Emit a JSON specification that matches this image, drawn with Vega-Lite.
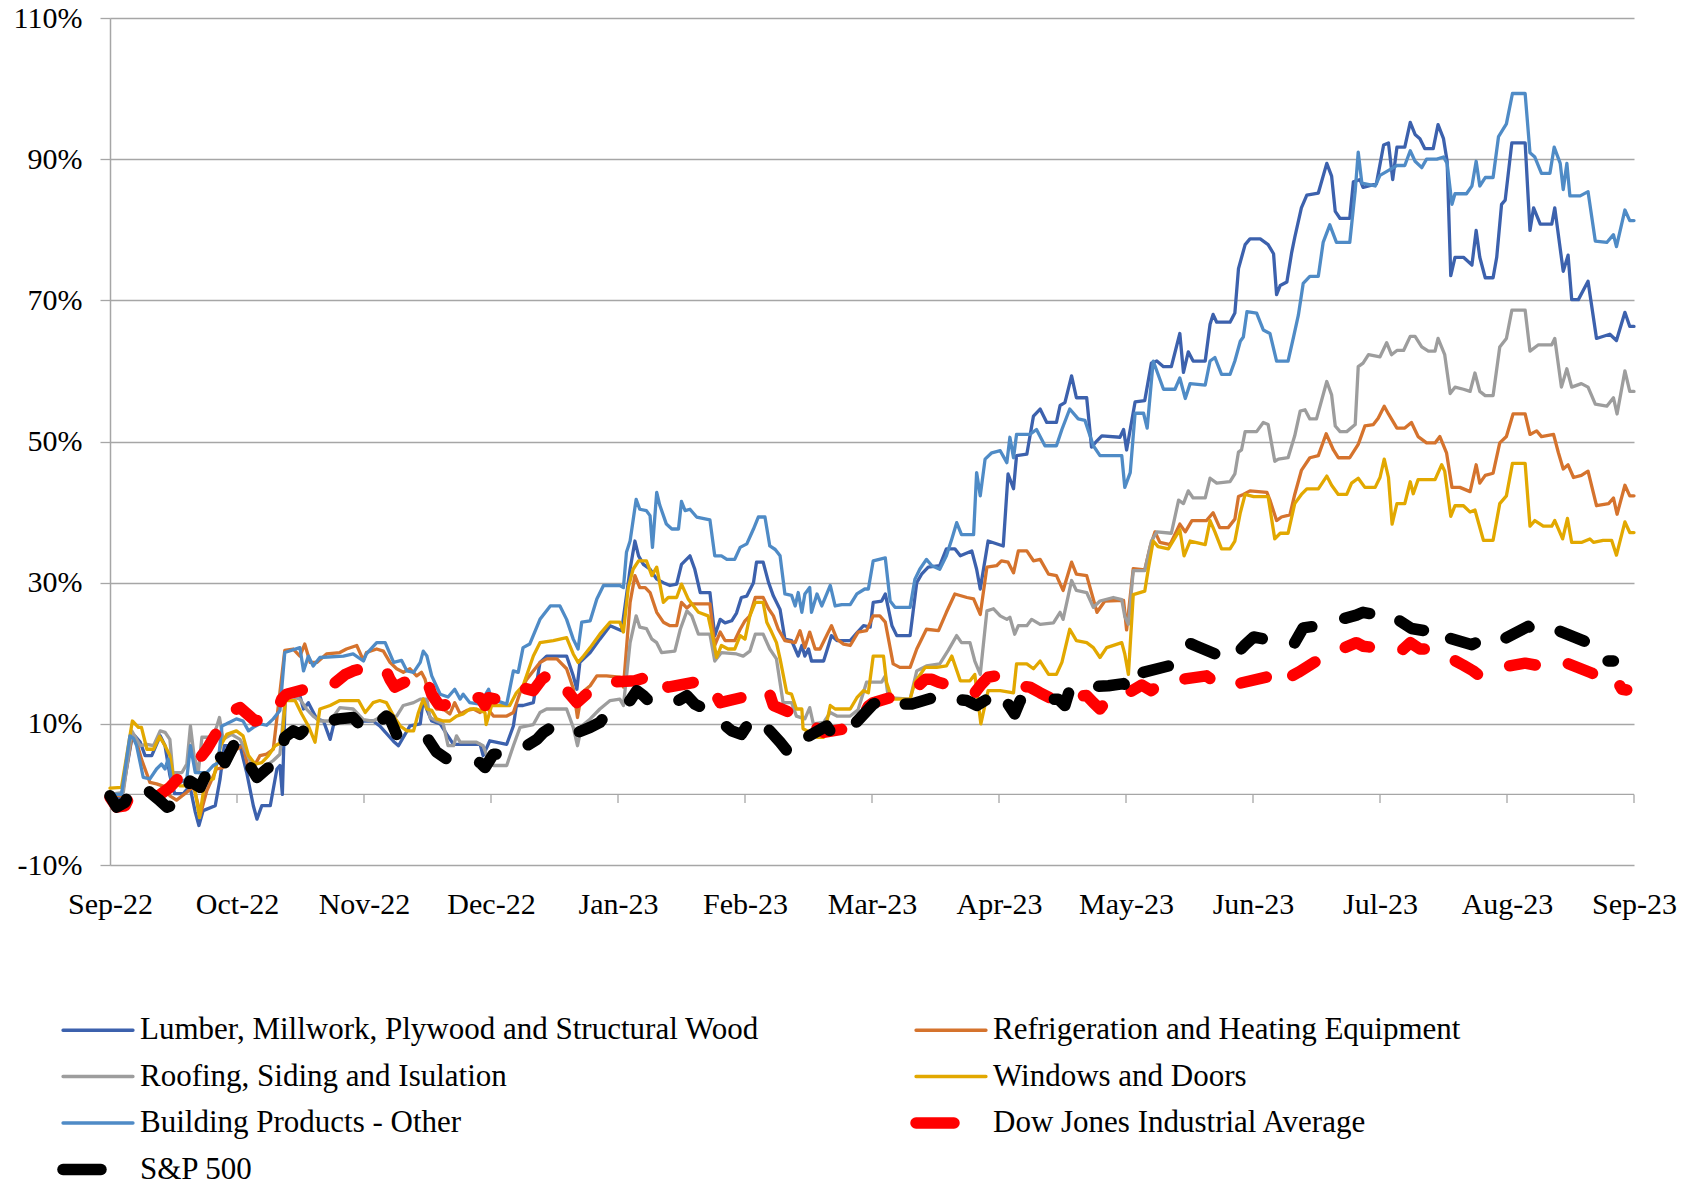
{
"$schema":"https://vega.github.io/schema/vega-lite/v6.json",
"width":1524,"height":847,
"autosize":{"type":"none"},
"padding":{"left":110,"top":18,"right":56,"bottom":320},
"background":"white",
"config":{"view":{"stroke":null},"font":"Liberation Serif"},
"data":{"values":[
{"k":"L","t":0,"v":0},{"k":"L","t":1.9,"v":-0.6},{"k":"L","t":3.6,"v":7.9},{"k":"L","t":4.1,"v":8.3},{"k":"L","t":5.0,"v":7.4},{"k":"L","t":5.8,"v":5.5},{"k":"L","t":6.9,"v":5.5},{"k":"L","t":8.3,"v":8.3},{"k":"L","t":9.1,"v":6.9},{"k":"L","t":9.9,"v":2.7},{"k":"L","t":10.7,"v":0.1},{"k":"L","t":12.1,"v":0.1},{"k":"L","t":13.2,"v":1.2},{"k":"L","t":14.1,"v":-2.5},{"k":"L","t":14.7,"v":-4.4},{"k":"L","t":15.4,"v":-2.3},{"k":"L","t":17.4,"v":-1.6},{"k":"L","t":18.2,"v":2.2},{"k":"L","t":18.9,"v":6.9},{"k":"L","t":21.5,"v":6.9},{"k":"L","t":22.6,"v":3.1},{"k":"L","t":23.7,"v":-1.6},{"k":"L","t":24.3,"v":-3.5},{"k":"L","t":25.1,"v":-1.6},{"k":"L","t":26.5,"v":-1.6},{"k":"L","t":27.6,"v":3.6},{"k":"L","t":28.1,"v":4.1},{"k":"L","t":28.5,"v":0},{"k":"L","t":29.0,"v":14.7},{"k":"L","t":31.1,"v":14.9},{"k":"L","t":32.0,"v":12.1},{"k":"L","t":32.8,"v":13.0},{"k":"L","t":34.2,"v":10.7},{"k":"L","t":35.3,"v":10.4},{"k":"L","t":36.4,"v":7.8},{"k":"L","t":37.2,"v":10.7},{"k":"L","t":39.1,"v":10.7},{"k":"L","t":41.3,"v":10.4},{"k":"L","t":43.5,"v":10.4},{"k":"L","t":44.6,"v":9.7},{"k":"L","t":46.9,"v":7.5},{"k":"L","t":47.7,"v":6.9},{"k":"L","t":49.6,"v":9.7},{"k":"L","t":51.3,"v":10.0},{"k":"L","t":51.8,"v":13.5},{"k":"L","t":52.4,"v":12.0},{"k":"L","t":53.2,"v":10.4},{"k":"L","t":54.6,"v":10.0},{"k":"L","t":55.7,"v":8.5},{"k":"L","t":56.8,"v":7.1},{"k":"L","t":61.2,"v":7.1},{"k":"L","t":61.7,"v":5.5},{"k":"L","t":62.8,"v":7.6},{"k":"L","t":65.6,"v":7.1},{"k":"L","t":66.7,"v":9.7},{"k":"L","t":67.2,"v":12.6},{"k":"L","t":68.3,"v":12.6},{"k":"L","t":70.0,"v":13.0},{"k":"L","t":71.1,"v":18.7},{"k":"L","t":72.2,"v":19.6},{"k":"L","t":75.5,"v":19.6},{"k":"L","t":76.6,"v":16.8},{"k":"L","t":77.2,"v":14.9},{"k":"L","t":77.7,"v":18.7},{"k":"L","t":79.4,"v":20.1},{"k":"L","t":81.0,"v":22.0},{"k":"L","t":82.7,"v":23.9},{"k":"L","t":84.6,"v":23.2},{"k":"L","t":86.0,"v":31.9},{"k":"L","t":86.8,"v":35.9},{"k":"L","t":87.4,"v":33.8},{"k":"L","t":88.2,"v":32.6},{"k":"L","t":89.3,"v":31.9},{"k":"L","t":90.4,"v":30.5},{"k":"L","t":91.5,"v":30.0},{"k":"L","t":92.6,"v":29.6},{"k":"L","t":93.7,"v":29.8},{"k":"L","t":94.5,"v":32.6},{"k":"L","t":95.9,"v":33.8},{"k":"L","t":96.7,"v":31.9},{"k":"L","t":97.6,"v":28.6},{"k":"L","t":99.2,"v":28.6},{"k":"L","t":100.0,"v":22.5},{"k":"L","t":100.9,"v":24.8},{"k":"L","t":101.7,"v":24.3},{"k":"L","t":102.8,"v":24.6},{"k":"L","t":103.6,"v":25.7},{"k":"L","t":104.4,"v":27.9},{"k":"L","t":105.3,"v":28.1},{"k":"L","t":106.4,"v":30.0},{"k":"L","t":106.9,"v":32.9},{"k":"L","t":108.0,"v":32.9},{"k":"L","t":108.9,"v":30.0},{"k":"L","t":109.7,"v":28.1},{"k":"L","t":110.8,"v":26.2},{"k":"L","t":111.6,"v":22.0},{"k":"L","t":112.7,"v":21.8},{"k":"L","t":113.3,"v":20.6},{"k":"L","t":113.8,"v":19.6},{"k":"L","t":114.4,"v":21.1},{"k":"L","t":114.9,"v":19.6},{"k":"L","t":115.5,"v":20.6},{"k":"L","t":116.0,"v":18.9},{"k":"L","t":118.0,"v":18.9},{"k":"L","t":118.8,"v":21.1},{"k":"L","t":119.3,"v":22.5},{"k":"L","t":120.2,"v":21.8},{"k":"L","t":122.4,"v":21.8},{"k":"L","t":123.5,"v":22.9},{"k":"L","t":124.6,"v":23.9},{"k":"L","t":125.7,"v":23.7},{"k":"L","t":126.2,"v":27.2},{"k":"L","t":127.6,"v":27.4},{"k":"L","t":128.2,"v":28.4},{"k":"L","t":129.3,"v":23.9},{"k":"L","t":130.1,"v":22.5},{"k":"L","t":132.3,"v":22.5},{"k":"L","t":133.4,"v":30.0},{"k":"L","t":134.2,"v":31.2},{"k":"L","t":135.3,"v":32.2},{"k":"L","t":137.2,"v":32.4},{"k":"L","t":138.3,"v":34.8},{"k":"L","t":139.7,"v":34.8},{"k":"L","t":140.6,"v":33.8},{"k":"L","t":142.5,"v":34.5},{"k":"L","t":143.3,"v":31.9},{"k":"L","t":143.9,"v":29.1},{"k":"L","t":145.2,"v":35.9},{"k":"L","t":147.7,"v":35.2},{"k":"L","t":148.5,"v":45.4},{"k":"L","t":149.4,"v":43.3},{"k":"L","t":149.9,"v":48.0},{"k":"L","t":151.6,"v":48.2},{"k":"L","t":152.7,"v":53.6},{"k":"L","t":153.8,"v":54.6},{"k":"L","t":154.9,"v":52.7},{"k":"L","t":156.5,"v":52.7},{"k":"L","t":157.1,"v":55.1},{"k":"L","t":157.9,"v":55.5},{"k":"L","t":159.0,"v":59.3},{"k":"L","t":159.8,"v":56.2},{"k":"L","t":161.5,"v":56.2},{"k":"L","t":162.3,"v":49.2},{"k":"L","t":163.2,"v":50.1},{"k":"L","t":164.0,"v":50.8},{"k":"L","t":167.0,"v":50.6},{"k":"L","t":167.6,"v":51.7},{"k":"L","t":168.1,"v":48.8},{"k":"L","t":169.5,"v":55.6},{"k":"L","t":171.1,"v":55.8},{"k":"L","t":172.2,"v":61.1},{"k":"L","t":173.1,"v":61.4},{"k":"L","t":174.2,"v":60.6},{"k":"L","t":175.5,"v":60.6},{"k":"L","t":176.9,"v":65.3},{"k":"L","t":177.5,"v":59.8},{"k":"L","t":178.3,"v":62.7},{"k":"L","t":179.1,"v":61.4},{"k":"L","t":181.1,"v":61.4},{"k":"L","t":181.9,"v":66.6},{"k":"L","t":182.4,"v":68.0},{"k":"L","t":183.0,"v":66.9},{"k":"L","t":185.2,"v":66.9},{"k":"L","t":186.0,"v":68.2},{"k":"L","t":186.6,"v":74.5},{"k":"L","t":187.7,"v":77.9},{"k":"L","t":188.5,"v":78.7},{"k":"L","t":190.2,"v":78.7},{"k":"L","t":191.5,"v":77.9},{"k":"L","t":192.4,"v":76.6},{"k":"L","t":192.9,"v":70.8},{"k":"L","t":193.5,"v":72.1},{"k":"L","t":194.6,"v":72.6},{"k":"L","t":195.4,"v":76.8},{"k":"L","t":195.9,"v":78.9},{"k":"L","t":197.0,"v":83.1},{"k":"L","t":197.9,"v":84.9},{"k":"L","t":199.8,"v":85.2},{"k":"L","t":201.2,"v":89.4},{"k":"L","t":202.0,"v":87.6},{"k":"L","t":202.6,"v":82.6},{"k":"L","t":203.4,"v":81.6},{"k":"L","t":205.0,"v":81.6},{"k":"L","t":205.6,"v":86.8},{"k":"L","t":206.7,"v":87.1},{"k":"L","t":207.2,"v":86.0},{"k":"L","t":209.4,"v":86.5},{"k":"L","t":210.6,"v":92.0},{"k":"L","t":211.4,"v":92.3},{"k":"L","t":212.1,"v":87.1},{"k":"L","t":212.8,"v":91.7},{"k":"L","t":214.1,"v":91.7},{"k":"L","t":215.0,"v":95.2},{"k":"L","t":215.8,"v":93.5},{"k":"L","t":216.6,"v":92.9},{"k":"L","t":217.4,"v":91.5},{"k":"L","t":218.8,"v":91.5},{"k":"L","t":219.6,"v":94.9},{"k":"L","t":220.5,"v":92.9},{"k":"L","t":221.1,"v":89.7},{"k":"L","t":221.7,"v":73.5},{"k":"L","t":222.4,"v":76.1},{"k":"L","t":223.8,"v":76.1},{"k":"L","t":225.2,"v":75.0},{"k":"L","t":225.9,"v":79.9},{"k":"L","t":226.5,"v":76.1},{"k":"L","t":227.4,"v":73.2},{"k":"L","t":228.7,"v":73.2},{"k":"L","t":229.3,"v":76.1},{"k":"L","t":230.1,"v":83.6},{"k":"L","t":230.7,"v":84.2},{"k":"L","t":231.8,"v":92.3},{"k":"L","t":234.0,"v":92.3},{"k":"L","t":234.8,"v":79.9},{"k":"L","t":235.4,"v":83.1},{"k":"L","t":236.5,"v":80.8},{"k":"L","t":238.4,"v":80.8},{"k":"L","t":238.9,"v":83.1},{"k":"L","t":240.3,"v":74.1},{"k":"L","t":241.1,"v":76.4},{"k":"L","t":241.7,"v":70.1},{"k":"L","t":242.8,"v":70.1},{"k":"L","t":244.4,"v":72.7},{"k":"L","t":245.8,"v":64.6},{"k":"L","t":248.0,"v":65.2},{"k":"L","t":249.1,"v":64.3},{"k":"L","t":250.5,"v":68.3},{"k":"L","t":251.3,"v":66.3},{"k":"L","t":252.0,"v":66.3},
{"k":"R","t":0,"v":0},{"k":"R","t":1.9,"v":-0.2},{"k":"R","t":3.6,"v":8.1},{"k":"R","t":4.4,"v":7.4},{"k":"R","t":5.2,"v":5.0},{"k":"R","t":6.6,"v":1.7},{"k":"R","t":7.7,"v":1.5},{"k":"R","t":9.4,"v":1.0},{"k":"R","t":9.9,"v":-0.2},{"k":"R","t":11.0,"v":-0.8},{"k":"R","t":12.7,"v":0.3},{"k":"R","t":13.8,"v":1.2},{"k":"R","t":14.6,"v":-1.6},{"k":"R","t":14.9,"v":-3.0},{"k":"R","t":16.0,"v":0.5},{"k":"R","t":17.6,"v":3.6},{"k":"R","t":18.7,"v":3.8},{"k":"R","t":19.8,"v":5.0},{"k":"R","t":20.9,"v":6.4},{"k":"R","t":22.0,"v":6.9},{"k":"R","t":22.9,"v":3.6},{"k":"R","t":23.7,"v":3.8},{"k":"R","t":24.8,"v":5.5},{"k":"R","t":25.9,"v":5.7},{"k":"R","t":27.0,"v":6.4},{"k":"R","t":28.9,"v":20.4},{"k":"R","t":30.3,"v":20.6},{"k":"R","t":31.4,"v":19.6},{"k":"R","t":32.2,"v":21.3},{"k":"R","t":33.1,"v":18.7},{"k":"R","t":34.2,"v":18.7},{"k":"R","t":35.8,"v":19.9},{"k":"R","t":38.0,"v":20.1},{"k":"R","t":39.1,"v":20.6},{"k":"R","t":40.8,"v":21.1},{"k":"R","t":41.9,"v":19.0},{"k":"R","t":42.4,"v":20.1},{"k":"R","t":44.1,"v":20.6},{"k":"R","t":45.2,"v":20.3},{"k":"R","t":46.3,"v":18.7},{"k":"R","t":47.4,"v":17.8},{"k":"R","t":48.5,"v":17.3},{"k":"R","t":49.6,"v":17.8},{"k":"R","t":50.7,"v":16.8},{"k":"R","t":51.5,"v":17.3},{"k":"R","t":52.1,"v":16.3},{"k":"R","t":52.9,"v":13.5},{"k":"R","t":54.0,"v":12.1},{"k":"R","t":55.1,"v":12.1},{"k":"R","t":56.2,"v":11.4},{"k":"R","t":57.0,"v":13.0},{"k":"R","t":57.9,"v":11.4},{"k":"R","t":59.0,"v":11.9},{"k":"R","t":60.1,"v":12.1},{"k":"R","t":61.2,"v":11.6},{"k":"R","t":62.3,"v":12.3},{"k":"R","t":63.4,"v":11.1},{"k":"R","t":65.6,"v":11.1},{"k":"R","t":66.7,"v":11.6},{"k":"R","t":67.8,"v":14.4},{"k":"R","t":68.9,"v":16.3},{"k":"R","t":71.1,"v":18.7},{"k":"R","t":72.2,"v":19.2},{"k":"R","t":73.9,"v":19.2},{"k":"R","t":75.5,"v":17.8},{"k":"R","t":76.6,"v":15.0},{"k":"R","t":77.3,"v":10.9},{"k":"R","t":78.0,"v":14.4},{"k":"R","t":79.4,"v":15.4},{"k":"R","t":80.5,"v":16.8},{"k":"R","t":82.1,"v":16.8},{"k":"R","t":84.3,"v":16.6},{"k":"R","t":84.9,"v":15.2},{"k":"R","t":86.0,"v":27.2},{"k":"R","t":86.8,"v":31.0},{"k":"R","t":87.6,"v":29.3},{"k":"R","t":88.5,"v":29.3},{"k":"R","t":89.3,"v":28.6},{"k":"R","t":90.4,"v":25.8},{"k":"R","t":91.5,"v":24.4},{"k":"R","t":92.6,"v":23.9},{"k":"R","t":93.7,"v":23.9},{"k":"R","t":94.5,"v":27.2},{"k":"R","t":95.4,"v":26.4},{"k":"R","t":96.2,"v":27.0},{"k":"R","t":99.2,"v":27.0},{"k":"R","t":100.0,"v":21.1},{"k":"R","t":100.9,"v":23.0},{"k":"R","t":101.7,"v":21.8},{"k":"R","t":103.3,"v":21.8},{"k":"R","t":104.2,"v":23.4},{"k":"R","t":105.0,"v":24.6},{"k":"R","t":105.8,"v":25.3},{"k":"R","t":106.7,"v":27.9},{"k":"R","t":108.0,"v":27.9},{"k":"R","t":108.9,"v":26.3},{"k":"R","t":109.7,"v":25.3},{"k":"R","t":110.5,"v":23.4},{"k":"R","t":111.6,"v":21.8},{"k":"R","t":113.3,"v":21.5},{"k":"R","t":114.1,"v":23.2},{"k":"R","t":114.9,"v":20.8},{"k":"R","t":115.7,"v":23.0},{"k":"R","t":116.6,"v":20.6},{"k":"R","t":117.4,"v":20.6},{"k":"R","t":118.5,"v":22.5},{"k":"R","t":119.3,"v":23.9},{"k":"R","t":120.2,"v":22.0},{"k":"R","t":121.3,"v":21.3},{"k":"R","t":122.4,"v":21.1},{"k":"R","t":123.7,"v":23.0},{"k":"R","t":125.1,"v":23.2},{"k":"R","t":126.2,"v":25.3},{"k":"R","t":127.3,"v":25.3},{"k":"R","t":128.2,"v":24.4},{"k":"R","t":129.5,"v":18.5},{"k":"R","t":130.6,"v":18.0},{"k":"R","t":132.3,"v":18.0},{"k":"R","t":133.4,"v":20.6},{"k":"R","t":135.0,"v":23.4},{"k":"R","t":137.0,"v":23.2},{"k":"R","t":138.3,"v":25.8},{"k":"R","t":139.7,"v":28.4},{"k":"R","t":141.7,"v":27.9},{"k":"R","t":142.8,"v":27.7},{"k":"R","t":143.9,"v":25.5},{"k":"R","t":145.0,"v":32.2},{"k":"R","t":146.6,"v":32.4},{"k":"R","t":147.4,"v":33.1},{"k":"R","t":148.5,"v":32.9},{"k":"R","t":149.4,"v":31.4},{"k":"R","t":150.2,"v":34.5},{"k":"R","t":151.6,"v":34.5},{"k":"R","t":152.7,"v":33.1},{"k":"R","t":153.8,"v":33.3},{"k":"R","t":155.2,"v":31.2},{"k":"R","t":156.5,"v":31.0},{"k":"R","t":157.6,"v":28.9},{"k":"R","t":159.0,"v":32.9},{"k":"R","t":159.8,"v":31.2},{"k":"R","t":161.5,"v":31.0},{"k":"R","t":163.2,"v":25.8},{"k":"R","t":164.5,"v":27.4},{"k":"R","t":167.6,"v":27.5},{"k":"R","t":168.1,"v":23.3},{"k":"R","t":169.2,"v":32.0},{"k":"R","t":171.1,"v":31.8},{"k":"R","t":172.0,"v":35.1},{"k":"R","t":172.8,"v":37.2},{"k":"R","t":173.6,"v":35.7},{"k":"R","t":175.3,"v":35.4},{"k":"R","t":176.9,"v":38.3},{"k":"R","t":177.8,"v":37.2},{"k":"R","t":178.9,"v":38.8},{"k":"R","t":181.3,"v":38.8},{"k":"R","t":182.4,"v":39.9},{"k":"R","t":183.5,"v":37.8},{"k":"R","t":184.9,"v":37.8},{"k":"R","t":186.0,"v":39.0},{"k":"R","t":186.6,"v":42.2},{"k":"R","t":187.4,"v":42.5},{"k":"R","t":188.5,"v":43.0},{"k":"R","t":191.3,"v":42.8},{"k":"R","t":191.8,"v":41.7},{"k":"R","t":192.9,"v":38.8},{"k":"R","t":193.7,"v":39.3},{"k":"R","t":195.1,"v":39.6},{"k":"R","t":195.9,"v":42.5},{"k":"R","t":197.0,"v":45.9},{"k":"R","t":198.4,"v":47.7},{"k":"R","t":199.8,"v":48.0},{"k":"R","t":201.1,"v":51.1},{"k":"R","t":202.3,"v":48.8},{"k":"R","t":203.1,"v":47.7},{"k":"R","t":205.0,"v":47.7},{"k":"R","t":206.4,"v":49.6},{"k":"R","t":207.0,"v":51.0},{"k":"R","t":207.5,"v":52.2},{"k":"R","t":208.9,"v":52.4},{"k":"R","t":209.7,"v":53.3},{"k":"R","t":210.7,"v":55.0},{"k":"R","t":211.4,"v":53.9},{"k":"R","t":212.8,"v":51.9},{"k":"R","t":214.1,"v":51.9},{"k":"R","t":215.2,"v":52.7},{"k":"R","t":216.3,"v":50.7},{"k":"R","t":217.7,"v":49.8},{"k":"R","t":219.1,"v":49.8},{"k":"R","t":219.9,"v":50.7},{"k":"R","t":221.0,"v":48.4},{"k":"R","t":221.9,"v":43.5},{"k":"R","t":223.2,"v":43.5},{"k":"R","t":224.9,"v":42.9},{"k":"R","t":225.9,"v":46.7},{"k":"R","t":226.5,"v":44.1},{"k":"R","t":227.4,"v":45.2},{"k":"R","t":228.7,"v":45.5},{"k":"R","t":229.8,"v":49.8},{"k":"R","t":230.9,"v":50.7},{"k":"R","t":232.0,"v":53.9},{"k":"R","t":234.0,"v":53.9},{"k":"R","t":234.8,"v":51.0},{"k":"R","t":235.9,"v":51.5},{"k":"R","t":236.7,"v":50.7},{"k":"R","t":238.7,"v":51.0},{"k":"R","t":239.5,"v":48.4},{"k":"R","t":240.3,"v":46.1},{"k":"R","t":241.1,"v":46.7},{"k":"R","t":242.0,"v":44.9},{"k":"R","t":243.3,"v":45.2},{"k":"R","t":244.4,"v":45.8},{"k":"R","t":245.8,"v":40.9},{"k":"R","t":247.8,"v":41.2},{"k":"R","t":248.6,"v":42.0},{"k":"R","t":249.2,"v":39.7},{"k":"R","t":250.5,"v":43.8},{"k":"R","t":251.3,"v":42.3},{"k":"R","t":252.0,"v":42.3},
{"k":"G","t":0,"v":0},{"k":"G","t":2.2,"v":0.3},{"k":"G","t":3.6,"v":9.0},{"k":"G","t":4.4,"v":7.8},{"k":"G","t":5.0,"v":6.9},{"k":"G","t":6.1,"v":7.1},{"k":"G","t":7.2,"v":6.9},{"k":"G","t":8.3,"v":9.0},{"k":"G","t":9.1,"v":8.8},{"k":"G","t":9.9,"v":7.8},{"k":"G","t":10.4,"v":3.1},{"k":"G","t":11.9,"v":3.1},{"k":"G","t":12.7,"v":4.3},{"k":"G","t":13.3,"v":9.7},{"k":"G","t":13.9,"v":5.5},{"k":"G","t":14.6,"v":3.1},{"k":"G","t":15.2,"v":8.1},{"k":"G","t":16.8,"v":8.1},{"k":"G","t":17.6,"v":9.5},{"k":"G","t":18.1,"v":10.9},{"k":"G","t":18.7,"v":7.8},{"k":"G","t":20.1,"v":8.5},{"k":"G","t":21.5,"v":7.8},{"k":"G","t":22.6,"v":5.9},{"k":"G","t":23.7,"v":3.6},{"k":"G","t":24.8,"v":3.1},{"k":"G","t":25.9,"v":4.1},{"k":"G","t":27.0,"v":4.8},{"k":"G","t":28.1,"v":5.7},{"k":"G","t":29.0,"v":14.0},{"k":"G","t":30.3,"v":13.8},{"k":"G","t":31.4,"v":13.5},{"k":"G","t":32.5,"v":12.1},{"k":"G","t":33.6,"v":11.1},{"k":"G","t":34.7,"v":10.4},{"k":"G","t":36.4,"v":10.4},{"k":"G","t":38.0,"v":12.3},{"k":"G","t":40.2,"v":12.1},{"k":"G","t":41.9,"v":10.6},{"k":"G","t":43.5,"v":10.4},{"k":"G","t":44.6,"v":10.9},{"k":"G","t":47.4,"v":11.1},{"k":"G","t":48.5,"v":12.6},{"k":"G","t":50.2,"v":13.0},{"k":"G","t":51.3,"v":13.5},{"k":"G","t":52.4,"v":13.5},{"k":"G","t":52.9,"v":10.9},{"k":"G","t":54.0,"v":10.4},{"k":"G","t":55.1,"v":10.0},{"k":"G","t":55.9,"v":6.9},{"k":"G","t":56.8,"v":6.9},{"k":"G","t":57.3,"v":8.3},{"k":"G","t":57.9,"v":7.4},{"k":"G","t":60.6,"v":7.4},{"k":"G","t":61.7,"v":6.9},{"k":"G","t":62.3,"v":5.5},{"k":"G","t":63.4,"v":4.1},{"k":"G","t":65.6,"v":4.1},{"k":"G","t":66.7,"v":6.9},{"k":"G","t":67.8,"v":9.5},{"k":"G","t":70.0,"v":9.9},{"k":"G","t":71.1,"v":11.6},{"k":"G","t":72.2,"v":12.1},{"k":"G","t":75.5,"v":12.1},{"k":"G","t":76.6,"v":9.5},{"k":"G","t":77.3,"v":6.9},{"k":"G","t":78.0,"v":9.7},{"k":"G","t":79.4,"v":10.7},{"k":"G","t":81.0,"v":12.1},{"k":"G","t":82.7,"v":13.3},{"k":"G","t":84.3,"v":13.5},{"k":"G","t":84.9,"v":12.6},{"k":"G","t":86.0,"v":21.5},{"k":"G","t":87.0,"v":25.3},{"k":"G","t":87.6,"v":23.7},{"k":"G","t":88.7,"v":23.5},{"k":"G","t":89.6,"v":22.0},{"k":"G","t":90.4,"v":21.5},{"k":"G","t":91.2,"v":20.1},{"k":"G","t":93.4,"v":20.3},{"k":"G","t":94.3,"v":23.4},{"k":"G","t":95.4,"v":26.0},{"k":"G","t":96.2,"v":25.3},{"k":"G","t":97.3,"v":22.7},{"k":"G","t":99.2,"v":22.7},{"k":"G","t":100.0,"v":18.9},{"k":"G","t":101.1,"v":20.1},{"k":"G","t":103.6,"v":19.9},{"k":"G","t":104.7,"v":19.6},{"k":"G","t":105.8,"v":20.3},{"k":"G","t":106.7,"v":22.7},{"k":"G","t":108.0,"v":22.7},{"k":"G","t":109.1,"v":20.6},{"k":"G","t":110.2,"v":19.2},{"k":"G","t":111.3,"v":13.0},{"k":"G","t":112.7,"v":13.0},{"k":"G","t":113.5,"v":11.1},{"k":"G","t":114.9,"v":10.7},{"k":"G","t":115.7,"v":12.3},{"k":"G","t":116.3,"v":10.0},{"k":"G","t":118.0,"v":10.2},{"k":"G","t":119.1,"v":11.6},{"k":"G","t":120.2,"v":11.1},{"k":"G","t":122.4,"v":11.1},{"k":"G","t":123.7,"v":12.0},{"k":"G","t":125.1,"v":15.9},{"k":"G","t":127.6,"v":15.9},{"k":"G","t":128.2,"v":16.8},{"k":"G","t":128.7,"v":13.7},{"k":"G","t":132.3,"v":13.5},{"k":"G","t":133.4,"v":17.5},{"k":"G","t":135.0,"v":18.2},{"k":"G","t":137.2,"v":18.5},{"k":"G","t":138.6,"v":20.4},{"k":"G","t":140.0,"v":22.5},{"k":"G","t":140.8,"v":21.5},{"k":"G","t":142.2,"v":21.5},{"k":"G","t":143.0,"v":18.9},{"k":"G","t":143.9,"v":17.0},{"k":"G","t":145.0,"v":26.0},{"k":"G","t":146.1,"v":26.3},{"k":"G","t":147.2,"v":25.3},{"k":"G","t":148.3,"v":24.8},{"k":"G","t":148.8,"v":25.1},{"k":"G","t":149.6,"v":22.7},{"k":"G","t":150.2,"v":23.9},{"k":"G","t":151.6,"v":23.9},{"k":"G","t":152.4,"v":24.8},{"k":"G","t":153.8,"v":24.1},{"k":"G","t":156.0,"v":24.3},{"k":"G","t":157.1,"v":25.8},{"k":"G","t":157.6,"v":24.8},{"k":"G","t":159.0,"v":30.3},{"k":"G","t":159.8,"v":28.9},{"k":"G","t":161.5,"v":28.6},{"k":"G","t":162.6,"v":26.5},{"k":"G","t":163.7,"v":27.4},{"k":"G","t":165.9,"v":27.9},{"k":"G","t":167.3,"v":27.6},{"k":"G","t":167.8,"v":25.2},{"k":"G","t":168.4,"v":24.1},{"k":"G","t":169.2,"v":31.7},{"k":"G","t":171.1,"v":31.7},{"k":"G","t":172.2,"v":35.9},{"k":"G","t":173.1,"v":37.2},{"k":"G","t":175.5,"v":37.0},{"k":"G","t":176.7,"v":41.7},{"k":"G","t":177.5,"v":41.2},{"k":"G","t":178.3,"v":43.0},{"k":"G","t":179.1,"v":42.0},{"k":"G","t":181.1,"v":42.0},{"k":"G","t":181.9,"v":44.8},{"k":"G","t":183.0,"v":44.1},{"k":"G","t":185.2,"v":44.3},{"k":"G","t":186.0,"v":45.4},{"k":"G","t":186.6,"v":48.5},{"k":"G","t":187.1,"v":48.8},{"k":"G","t":187.7,"v":51.4},{"k":"G","t":189.6,"v":51.4},{"k":"G","t":190.7,"v":52.7},{"k":"G","t":191.5,"v":52.4},{"k":"G","t":192.6,"v":47.2},{"k":"G","t":193.2,"v":47.5},{"k":"G","t":194.8,"v":47.7},{"k":"G","t":195.9,"v":50.8},{"k":"G","t":196.8,"v":54.3},{"k":"G","t":197.6,"v":54.5},{"k":"G","t":198.4,"v":53.2},{"k":"G","t":199.5,"v":53.2},{"k":"G","t":201.2,"v":58.5},{"k":"G","t":202.0,"v":56.6},{"k":"G","t":202.6,"v":52.2},{"k":"G","t":203.4,"v":51.4},{"k":"G","t":204.5,"v":51.4},{"k":"G","t":205.9,"v":52.4},{"k":"G","t":206.4,"v":60.6},{"k":"G","t":207.2,"v":61.1},{"k":"G","t":208.1,"v":62.3},{"k":"G","t":210.0,"v":62.0},{"k":"G","t":211.1,"v":64.0},{"k":"G","t":211.9,"v":62.3},{"k":"G","t":212.8,"v":62.9},{"k":"G","t":213.9,"v":62.9},{"k":"G","t":215.0,"v":64.9},{"k":"G","t":215.8,"v":64.9},{"k":"G","t":216.9,"v":63.4},{"k":"G","t":218.0,"v":62.8},{"k":"G","t":219.1,"v":62.8},{"k":"G","t":219.6,"v":64.6},{"k":"G","t":220.7,"v":62.3},{"k":"G","t":221.6,"v":56.8},{"k":"G","t":222.4,"v":57.7},{"k":"G","t":223.8,"v":57.4},{"k":"G","t":224.9,"v":57.1},{"k":"G","t":225.7,"v":59.7},{"k":"G","t":226.5,"v":57.1},{"k":"G","t":227.4,"v":56.5},{"k":"G","t":228.7,"v":56.5},{"k":"G","t":229.8,"v":63.4},{"k":"G","t":230.9,"v":64.6},{"k":"G","t":231.8,"v":68.6},{"k":"G","t":234.0,"v":68.6},{"k":"G","t":234.8,"v":62.8},{"k":"G","t":236.2,"v":63.7},{"k":"G","t":238.4,"v":63.7},{"k":"G","t":238.9,"v":64.6},{"k":"G","t":240.0,"v":57.7},{"k":"G","t":240.9,"v":60.3},{"k":"G","t":241.7,"v":57.7},{"k":"G","t":243.3,"v":58.2},{"k":"G","t":244.4,"v":57.7},{"k":"G","t":245.6,"v":55.3},{"k":"G","t":247.5,"v":55.0},{"k":"G","t":248.6,"v":56.2},{"k":"G","t":249.2,"v":53.9},{"k":"G","t":250.5,"v":60.0},{"k":"G","t":251.3,"v":57.1},{"k":"G","t":252.0,"v":57.1},
{"k":"W","t":0,"v":0.9},{"k":"W","t":1.9,"v":1.0},{"k":"W","t":3.7,"v":10.4},{"k":"W","t":4.7,"v":9.5},{"k":"W","t":5.2,"v":9.5},{"k":"W","t":6.1,"v":6.4},{"k":"W","t":7.2,"v":6.4},{"k":"W","t":8.2,"v":8.2},{"k":"W","t":9.1,"v":6.9},{"k":"W","t":9.9,"v":5.5},{"k":"W","t":10.6,"v":1.9},{"k":"W","t":11.6,"v":1.2},{"k":"W","t":13.0,"v":1.2},{"k":"W","t":13.8,"v":1.9},{"k":"W","t":14.8,"v":-3.3},{"k":"W","t":15.7,"v":1.9},{"k":"W","t":17.1,"v":2.2},{"k":"W","t":18.3,"v":6.9},{"k":"W","t":19.3,"v":8.5},{"k":"W","t":20.9,"v":9.0},{"k":"W","t":22.0,"v":8.3},{"k":"W","t":22.9,"v":5.5},{"k":"W","t":24.0,"v":4.3},{"k":"W","t":25.1,"v":4.5},{"k":"W","t":26.2,"v":5.5},{"k":"W","t":27.3,"v":6.9},{"k":"W","t":28.4,"v":7.4},{"k":"W","t":29.0,"v":13.3},{"k":"W","t":30.6,"v":13.3},{"k":"W","t":31.7,"v":11.4},{"k":"W","t":32.8,"v":9.7},{"k":"W","t":33.9,"v":7.4},{"k":"W","t":34.7,"v":12.1},{"k":"W","t":36.4,"v":12.6},{"k":"W","t":38.0,"v":13.3},{"k":"W","t":41.1,"v":13.3},{"k":"W","t":42.2,"v":11.6},{"k":"W","t":43.5,"v":13.0},{"k":"W","t":44.6,"v":13.3},{"k":"W","t":45.7,"v":13.0},{"k":"W","t":46.9,"v":11.1},{"k":"W","t":48.0,"v":9.7},{"k":"W","t":49.1,"v":9.0},{"k":"W","t":50.2,"v":9.0},{"k":"W","t":51.0,"v":11.6},{"k":"W","t":51.8,"v":13.5},{"k":"W","t":52.4,"v":12.1},{"k":"W","t":53.2,"v":11.9},{"k":"W","t":54.0,"v":10.7},{"k":"W","t":55.1,"v":10.4},{"k":"W","t":56.2,"v":10.4},{"k":"W","t":57.3,"v":11.1},{"k":"W","t":58.4,"v":11.4},{"k":"W","t":59.5,"v":12.1},{"k":"W","t":60.6,"v":12.1},{"k":"W","t":62.0,"v":11.6},{"k":"W","t":62.2,"v":9.9},{"k":"W","t":63.1,"v":12.6},{"k":"W","t":66.1,"v":12.6},{"k":"W","t":67.2,"v":14.4},{"k":"W","t":68.3,"v":15.4},{"k":"W","t":70.0,"v":19.6},{"k":"W","t":71.1,"v":21.5},{"k":"W","t":73.3,"v":21.8},{"k":"W","t":75.5,"v":22.2},{"k":"W","t":76.6,"v":19.9},{"k":"W","t":77.4,"v":18.7},{"k":"W","t":78.3,"v":19.6},{"k":"W","t":79.4,"v":20.8},{"k":"W","t":81.0,"v":22.7},{"k":"W","t":82.7,"v":24.4},{"k":"W","t":84.3,"v":24.4},{"k":"W","t":84.9,"v":23.0},{"k":"W","t":85.7,"v":29.3},{"k":"W","t":86.5,"v":31.9},{"k":"W","t":87.4,"v":33.1},{"k":"W","t":88.7,"v":33.1},{"k":"W","t":89.6,"v":31.0},{"k":"W","t":90.4,"v":32.2},{"k":"W","t":91.5,"v":27.2},{"k":"W","t":92.3,"v":27.9},{"k":"W","t":93.7,"v":27.9},{"k":"W","t":94.5,"v":29.8},{"k":"W","t":95.6,"v":27.7},{"k":"W","t":96.2,"v":27.0},{"k":"W","t":97.3,"v":25.8},{"k":"W","t":98.9,"v":25.3},{"k":"W","t":99.8,"v":21.8},{"k":"W","t":100.3,"v":19.4},{"k":"W","t":101.1,"v":21.1},{"k":"W","t":102.2,"v":20.6},{"k":"W","t":103.3,"v":20.6},{"k":"W","t":104.2,"v":22.5},{"k":"W","t":105.0,"v":22.0},{"k":"W","t":105.8,"v":25.3},{"k":"W","t":106.7,"v":27.2},{"k":"W","t":108.0,"v":27.2},{"k":"W","t":108.6,"v":24.4},{"k":"W","t":109.4,"v":23.0},{"k":"W","t":110.2,"v":21.5},{"k":"W","t":110.8,"v":19.2},{"k":"W","t":111.9,"v":14.4},{"k":"W","t":112.7,"v":14.2},{"k":"W","t":113.5,"v":12.1},{"k":"W","t":114.4,"v":12.1},{"k":"W","t":114.6,"v":9.3},{"k":"W","t":115.7,"v":8.8},{"k":"W","t":116.9,"v":8.1},{"k":"W","t":118.0,"v":8.1},{"k":"W","t":119.1,"v":12.6},{"k":"W","t":119.9,"v":12.1},{"k":"W","t":122.4,"v":12.1},{"k":"W","t":123.5,"v":13.7},{"k":"W","t":124.6,"v":14.7},{"k":"W","t":125.4,"v":14.4},{"k":"W","t":126.2,"v":19.6},{"k":"W","t":127.9,"v":19.6},{"k":"W","t":128.4,"v":15.9},{"k":"W","t":129.3,"v":13.5},{"k":"W","t":132.3,"v":13.5},{"k":"W","t":133.1,"v":15.9},{"k":"W","t":134.8,"v":18.0},{"k":"W","t":136.7,"v":18.0},{"k":"W","t":138.3,"v":18.2},{"k":"W","t":139.2,"v":19.6},{"k":"W","t":140.6,"v":16.1},{"k":"W","t":142.2,"v":16.1},{"k":"W","t":143.0,"v":17.0},{"k":"W","t":144.0,"v":10.0},{"k":"W","t":145.2,"v":14.7},{"k":"W","t":147.2,"v":14.7},{"k":"W","t":149.4,"v":14.4},{"k":"W","t":149.9,"v":18.5},{"k":"W","t":151.6,"v":18.5},{"k":"W","t":152.7,"v":17.8},{"k":"W","t":153.8,"v":18.9},{"k":"W","t":155.2,"v":17.0},{"k":"W","t":156.5,"v":17.0},{"k":"W","t":157.4,"v":18.7},{"k":"W","t":158.7,"v":23.4},{"k":"W","t":159.8,"v":21.8},{"k":"W","t":161.5,"v":21.5},{"k":"W","t":162.6,"v":20.8},{"k":"W","t":163.7,"v":19.4},{"k":"W","t":164.8,"v":20.8},{"k":"W","t":167.3,"v":21.5},{"k":"W","t":167.8,"v":19.9},{"k":"W","t":168.4,"v":17.0},{"k":"W","t":169.2,"v":28.3},{"k":"W","t":171.1,"v":28.8},{"k":"W","t":171.7,"v":32.0},{"k":"W","t":172.5,"v":35.9},{"k":"W","t":173.3,"v":35.1},{"k":"W","t":175.0,"v":34.8},{"k":"W","t":176.9,"v":37.5},{"k":"W","t":177.6,"v":33.8},{"k":"W","t":178.6,"v":35.9},{"k":"W","t":181.1,"v":35.4},{"k":"W","t":181.9,"v":38.8},{"k":"W","t":182.7,"v":37.2},{"k":"W","t":183.8,"v":34.8},{"k":"W","t":185.2,"v":34.8},{"k":"W","t":186.0,"v":35.9},{"k":"W","t":186.9,"v":39.9},{"k":"W","t":187.7,"v":42.5},{"k":"W","t":189.1,"v":42.2},{"k":"W","t":191.5,"v":42.2},{"k":"W","t":192.6,"v":36.2},{"k":"W","t":193.5,"v":37.0},{"k":"W","t":194.8,"v":37.0},{"k":"W","t":195.9,"v":41.2},{"k":"W","t":197.0,"v":42.5},{"k":"W","t":197.9,"v":43.3},{"k":"W","t":199.8,"v":43.3},{"k":"W","t":201.2,"v":45.1},{"k":"W","t":202.0,"v":43.8},{"k":"W","t":203.1,"v":42.5},{"k":"W","t":204.5,"v":42.5},{"k":"W","t":205.3,"v":44.1},{"k":"W","t":206.4,"v":44.8},{"k":"W","t":207.5,"v":43.5},{"k":"W","t":209.2,"v":43.5},{"k":"W","t":210.0,"v":44.9},{"k":"W","t":210.7,"v":47.5},{"k":"W","t":211.4,"v":44.9},{"k":"W","t":212.0,"v":38.3},{"k":"W","t":212.8,"v":41.2},{"k":"W","t":214.1,"v":41.2},{"k":"W","t":215.0,"v":44.3},{"k":"W","t":215.5,"v":42.6},{"k":"W","t":216.3,"v":44.6},{"k":"W","t":219.1,"v":44.6},{"k":"W","t":220.2,"v":46.7},{"k":"W","t":220.7,"v":45.8},{"k":"W","t":221.7,"v":39.4},{"k":"W","t":222.4,"v":40.9},{"k":"W","t":223.8,"v":40.9},{"k":"W","t":224.9,"v":40.0},{"k":"W","t":225.7,"v":40.3},{"k":"W","t":227.1,"v":36.0},{"k":"W","t":228.7,"v":36.0},{"k":"W","t":229.8,"v":41.2},{"k":"W","t":230.9,"v":42.3},{"k":"W","t":231.9,"v":46.9},{"k":"W","t":234.0,"v":46.9},{"k":"W","t":234.8,"v":38.0},{"k":"W","t":235.6,"v":38.8},{"k":"W","t":237.0,"v":38.0},{"k":"W","t":238.4,"v":38.0},{"k":"W","t":238.9,"v":38.8},{"k":"W","t":240.2,"v":36.2},{"k":"W","t":241.0,"v":39.1},{"k":"W","t":241.7,"v":35.7},{"k":"W","t":243.3,"v":35.7},{"k":"W","t":244.7,"v":36.2},{"k":"W","t":245.3,"v":35.7},{"k":"W","t":246.9,"v":36.0},{"k":"W","t":248.3,"v":36.0},{"k":"W","t":249.1,"v":33.9},{"k":"W","t":250.5,"v":38.6},{"k":"W","t":251.3,"v":37.1},{"k":"W","t":252.0,"v":37.1},
{"k":"B","t":0,"v":0},{"k":"B","t":1.9,"v":0},{"k":"B","t":3.3,"v":8.3},{"k":"B","t":3.9,"v":7.9},{"k":"B","t":4.4,"v":6.9},{"k":"B","t":5.5,"v":2.4},{"k":"B","t":6.6,"v":2.2},{"k":"B","t":7.7,"v":3.6},{"k":"B","t":8.5,"v":4.3},{"k":"B","t":9.1,"v":3.6},{"k":"B","t":9.6,"v":5.0},{"k":"B","t":10.2,"v":1.9},{"k":"B","t":11.6,"v":1.7},{"k":"B","t":12.7,"v":2.2},{"k":"B","t":13.3,"v":6.9},{"k":"B","t":14.1,"v":3.1},{"k":"B","t":16.0,"v":3.1},{"k":"B","t":17.1,"v":4.1},{"k":"B","t":17.9,"v":4.5},{"k":"B","t":18.5,"v":9.7},{"k":"B","t":19.3,"v":10.0},{"k":"B","t":20.9,"v":10.7},{"k":"B","t":22.0,"v":10.4},{"k":"B","t":22.9,"v":9.0},{"k":"B","t":23.7,"v":9.5},{"k":"B","t":24.8,"v":10.0},{"k":"B","t":25.9,"v":9.8},{"k":"B","t":27.0,"v":10.7},{"k":"B","t":28.1,"v":11.9},{"k":"B","t":28.9,"v":20.1},{"k":"B","t":31.4,"v":20.8},{"k":"B","t":32.0,"v":17.5},{"k":"B","t":32.8,"v":19.6},{"k":"B","t":33.6,"v":18.2},{"k":"B","t":34.7,"v":19.4},{"k":"B","t":38.6,"v":19.6},{"k":"B","t":40.2,"v":19.9},{"k":"B","t":41.9,"v":18.9},{"k":"B","t":42.4,"v":19.9},{"k":"B","t":44.1,"v":21.5},{"k":"B","t":45.5,"v":21.5},{"k":"B","t":46.9,"v":18.7},{"k":"B","t":48.2,"v":19.0},{"k":"B","t":49.1,"v":17.5},{"k":"B","t":50.2,"v":17.3},{"k":"B","t":51.3,"v":18.7},{"k":"B","t":51.8,"v":20.3},{"k":"B","t":52.4,"v":19.6},{"k":"B","t":53.2,"v":16.8},{"k":"B","t":54.6,"v":14.2},{"k":"B","t":55.9,"v":13.8},{"k":"B","t":57.0,"v":14.9},{"k":"B","t":57.9,"v":13.5},{"k":"B","t":58.4,"v":14.2},{"k":"B","t":59.5,"v":13.0},{"k":"B","t":61.2,"v":12.8},{"k":"B","t":62.6,"v":14.9},{"k":"B","t":63.1,"v":13.5},{"k":"B","t":65.6,"v":12.8},{"k":"B","t":66.7,"v":17.5},{"k":"B","t":67.5,"v":17.3},{"k":"B","t":68.3,"v":20.8},{"k":"B","t":69.4,"v":21.3},{"k":"B","t":71.1,"v":24.8},{"k":"B","t":72.8,"v":26.7},{"k":"B","t":74.4,"v":26.7},{"k":"B","t":75.5,"v":24.8},{"k":"B","t":76.6,"v":22.0},{"k":"B","t":77.4,"v":20.6},{"k":"B","t":78.0,"v":24.4},{"k":"B","t":79.4,"v":24.6},{"k":"B","t":80.5,"v":27.7},{"k":"B","t":81.6,"v":29.6},{"k":"B","t":84.3,"v":29.6},{"k":"B","t":84.9,"v":29.3},{"k":"B","t":85.4,"v":34.3},{"k":"B","t":86.0,"v":35.9},{"k":"B","t":87.0,"v":41.8},{"k":"B","t":87.6,"v":40.4},{"k":"B","t":88.7,"v":40.2},{"k":"B","t":89.3,"v":39.5},{"k":"B","t":89.7,"v":35.0},{"k":"B","t":90.4,"v":42.8},{"k":"B","t":90.9,"v":41.0},{"k":"B","t":92.0,"v":38.3},{"k":"B","t":92.9,"v":37.6},{"k":"B","t":94.0,"v":37.6},{"k":"B","t":94.5,"v":41.5},{"k":"B","t":95.1,"v":40.2},{"k":"B","t":95.9,"v":40.4},{"k":"B","t":97.0,"v":39.3},{"k":"B","t":99.2,"v":38.9},{"k":"B","t":100.0,"v":33.8},{"k":"B","t":101.1,"v":33.8},{"k":"B","t":102.0,"v":33.3},{"k":"B","t":103.3,"v":33.3},{"k":"B","t":104.2,"v":35.0},{"k":"B","t":105.3,"v":35.5},{"k":"B","t":106.4,"v":37.6},{"k":"B","t":107.2,"v":39.3},{"k":"B","t":108.3,"v":39.3},{"k":"B","t":109.1,"v":35.2},{"k":"B","t":110.0,"v":34.7},{"k":"B","t":110.8,"v":33.8},{"k":"B","t":111.6,"v":28.4},{"k":"B","t":112.7,"v":28.2},{"k":"B","t":113.3,"v":26.7},{"k":"B","t":113.8,"v":28.6},{"k":"B","t":114.4,"v":25.8},{"k":"B","t":114.9,"v":28.4},{"k":"B","t":115.7,"v":29.3},{"k":"B","t":116.0,"v":25.8},{"k":"B","t":116.9,"v":28.4},{"k":"B","t":117.7,"v":26.7},{"k":"B","t":119.1,"v":29.6},{"k":"B","t":119.9,"v":26.7},{"k":"B","t":121.0,"v":26.9},{"k":"B","t":122.4,"v":26.9},{"k":"B","t":123.5,"v":28.4},{"k":"B","t":124.8,"v":29.1},{"k":"B","t":125.4,"v":29.1},{"k":"B","t":126.2,"v":33.1},{"k":"B","t":128.2,"v":33.5},{"k":"B","t":129.0,"v":27.4},{"k":"B","t":129.8,"v":26.5},{"k":"B","t":132.3,"v":26.5},{"k":"B","t":133.1,"v":30.5},{"k":"B","t":133.9,"v":31.9},{"k":"B","t":135.0,"v":33.3},{"k":"B","t":135.9,"v":32.4},{"k":"B","t":137.2,"v":31.9},{"k":"B","t":138.3,"v":33.8},{"k":"B","t":139.2,"v":36.2},{"k":"B","t":140.0,"v":38.5},{"k":"B","t":140.8,"v":36.8},{"k":"B","t":142.8,"v":36.8},{"k":"B","t":143.3,"v":45.6},{"k":"B","t":143.9,"v":42.3},{"k":"B","t":144.7,"v":47.5},{"k":"B","t":145.8,"v":48.4},{"k":"B","t":147.2,"v":48.7},{"k":"B","t":148.3,"v":47.0},{"k":"B","t":148.8,"v":50.6},{"k":"B","t":149.4,"v":47.7},{"k":"B","t":149.9,"v":51.0},{"k":"B","t":152.1,"v":51.0},{"k":"B","t":153.2,"v":51.7},{"k":"B","t":154.6,"v":49.4},{"k":"B","t":156.5,"v":49.4},{"k":"B","t":157.4,"v":51.7},{"k":"B","t":158.7,"v":54.6},{"k":"B","t":160.1,"v":53.2},{"k":"B","t":161.2,"v":53.0},{"k":"B","t":162.6,"v":49.4},{"k":"B","t":163.7,"v":48.0},{"k":"B","t":167.3,"v":48.0},{"k":"B","t":167.8,"v":43.5},{"k":"B","t":168.7,"v":45.6},{"k":"B","t":169.5,"v":54.0},{"k":"B","t":170.9,"v":54.0},{"k":"B","t":171.5,"v":51.9},{"k":"B","t":172.5,"v":61.4},{"k":"B","t":174.2,"v":57.4},{"k":"B","t":176.1,"v":57.4},{"k":"B","t":176.9,"v":59.0},{"k":"B","t":177.8,"v":56.1},{"k":"B","t":178.6,"v":58.2},{"k":"B","t":181.1,"v":58.0},{"k":"B","t":181.9,"v":61.4},{"k":"B","t":182.7,"v":61.9},{"k":"B","t":183.8,"v":59.5},{"k":"B","t":185.2,"v":59.5},{"k":"B","t":186.0,"v":61.4},{"k":"B","t":186.9,"v":64.2},{"k":"B","t":187.4,"v":64.8},{"k":"B","t":188.0,"v":68.4},{"k":"B","t":189.6,"v":68.2},{"k":"B","t":190.7,"v":65.8},{"k":"B","t":191.8,"v":65.3},{"k":"B","t":192.9,"v":61.4},{"k":"B","t":194.8,"v":61.4},{"k":"B","t":195.7,"v":64.8},{"k":"B","t":196.5,"v":67.9},{"k":"B","t":197.3,"v":72.4},{"k":"B","t":198.4,"v":73.4},{"k":"B","t":199.8,"v":73.4},{"k":"B","t":200.6,"v":78.2},{"k":"B","t":201.7,"v":80.7},{"k":"B","t":202.8,"v":78.2},{"k":"B","t":205.0,"v":78.2},{"k":"B","t":205.9,"v":85.5},{"k":"B","t":206.4,"v":91.0},{"k":"B","t":207.0,"v":86.6},{"k":"B","t":209.2,"v":86.2},{"k":"B","t":210.0,"v":87.7},{"k":"B","t":212.2,"v":88.8},{"k":"B","t":212.8,"v":89.1},{"k":"B","t":214.1,"v":89.1},{"k":"B","t":215.0,"v":91.2},{"k":"B","t":215.8,"v":89.7},{"k":"B","t":216.9,"v":88.8},{"k":"B","t":217.7,"v":90.0},{"k":"B","t":219.4,"v":90.0},{"k":"B","t":220.5,"v":90.3},{"k":"B","t":221.1,"v":89.4},{"k":"B","t":221.9,"v":83.6},{"k":"B","t":222.4,"v":85.1},{"k":"B","t":224.3,"v":85.1},{"k":"B","t":225.2,"v":86.2},{"k":"B","t":225.9,"v":89.7},{"k":"B","t":226.5,"v":86.2},{"k":"B","t":227.4,"v":87.4},{"k":"B","t":228.7,"v":87.4},{"k":"B","t":229.6,"v":93.2},{"k":"B","t":230.9,"v":95.0},{"k":"B","t":231.9,"v":99.3},{"k":"B","t":234.0,"v":99.3},{"k":"B","t":234.8,"v":90.9},{"k":"B","t":235.6,"v":90.3},{"k":"B","t":236.7,"v":88.0},{"k":"B","t":238.1,"v":88.0},{"k":"B","t":238.8,"v":91.7},{"k":"B","t":239.8,"v":89.4},{"k":"B","t":240.3,"v":85.7},{"k":"B","t":240.9,"v":89.4},{"k":"B","t":241.4,"v":84.8},{"k":"B","t":243.1,"v":84.8},{"k":"B","t":244.4,"v":85.4},{"k":"B","t":245.6,"v":78.4},{"k":"B","t":247.5,"v":78.2},{"k":"B","t":248.6,"v":79.3},{"k":"B","t":249.1,"v":77.6},{"k":"B","t":250.5,"v":82.8},{"k":"B","t":251.3,"v":81.3},{"k":"B","t":252.0,"v":81.3},
{"k":"D","t":0,"v":-0.4},{"k":"D","t":1.1,"v":-1.8},{"k":"D","t":2.5,"v":-1.6},{"k":"D","t":3.3,"v":-0.2},{"k":"D","t":6.6,"v":0.3},{"k":"D","t":8.0,"v":-0.2},{"k":"D","t":9.9,"v":1.0},{"k":"D","t":12.7,"v":3.6},{"k":"D","t":14.3,"v":4.5},{"k":"D","t":16.0,"v":6.4},{"k":"D","t":19.6,"v":11.6},{"k":"D","t":21.5,"v":12.3},{"k":"D","t":23.1,"v":11.1},{"k":"D","t":24.0,"v":10.4},{"k":"D","t":27.3,"v":11.1},{"k":"D","t":28.4,"v":13.5},{"k":"D","t":29.2,"v":14.2},{"k":"D","t":34.4,"v":15.4},{"k":"D","t":36.9,"v":15.6},{"k":"D","t":38.9,"v":17.0},{"k":"D","t":40.2,"v":17.5},{"k":"D","t":42.4,"v":18.0},{"k":"D","t":44.1,"v":17.8},{"k":"D","t":45.5,"v":17.8},{"k":"D","t":46.3,"v":16.3},{"k":"D","t":47.1,"v":15.2},{"k":"D","t":51.3,"v":17.0},{"k":"D","t":52.4,"v":16.1},{"k":"D","t":53.2,"v":14.2},{"k":"D","t":54.3,"v":12.8},{"k":"D","t":55.1,"v":12.6},{"k":"D","t":59.0,"v":13.7},{"k":"D","t":61.2,"v":13.7},{"k":"D","t":62.0,"v":12.6},{"k":"D","t":62.6,"v":13.7},{"k":"D","t":63.9,"v":13.5},{"k":"D","t":67.8,"v":15.2},{"k":"D","t":70.0,"v":14.7},{"k":"D","t":71.4,"v":16.3},{"k":"D","t":73.0,"v":17.3},{"k":"D","t":77.2,"v":13.0},{"k":"D","t":78.8,"v":14.2},{"k":"D","t":80.5,"v":15.2},{"k":"D","t":82.1,"v":15.9},{"k":"D","t":86.8,"v":16.1},{"k":"D","t":88.7,"v":16.6},{"k":"D","t":90.4,"v":17.3},{"k":"D","t":91.5,"v":15.9},{"k":"D","t":92.3,"v":15.2},{"k":"D","t":96.7,"v":15.9},{"k":"D","t":98.9,"v":15.9},{"k":"D","t":99.8,"v":14.7},{"k":"D","t":100.9,"v":13.0},{"k":"D","t":105.8,"v":14.0},{"k":"D","t":107.5,"v":14.7},{"k":"D","t":108.9,"v":14.7},{"k":"D","t":109.7,"v":12.6},{"k":"D","t":113.8,"v":11.1},{"k":"D","t":115.2,"v":10.2},{"k":"D","t":116.3,"v":9.7},{"k":"D","t":118.0,"v":8.8},{"k":"D","t":121.5,"v":9.3},{"k":"D","t":123.5,"v":10.0},{"k":"D","t":124.3,"v":10.7},{"k":"D","t":125.4,"v":12.5},{"k":"D","t":126.2,"v":13.0},{"k":"D","t":131.7,"v":14.4},{"k":"D","t":133.4,"v":15.2},{"k":"D","t":134.8,"v":16.3},{"k":"D","t":135.9,"v":16.3},{"k":"D","t":137.0,"v":15.9},{"k":"D","t":143.0,"v":14.4},{"k":"D","t":144.1,"v":15.6},{"k":"D","t":145.2,"v":16.6},{"k":"D","t":146.6,"v":16.8},{"k":"D","t":150.2,"v":15.4},{"k":"D","t":152.1,"v":15.2},{"k":"D","t":153.8,"v":14.4},{"k":"D","t":155.4,"v":13.7},{"k":"D","t":156.5,"v":13.7},{"k":"D","t":161.5,"v":14.0},{"k":"D","t":162.6,"v":13.0},{"k":"D","t":163.7,"v":12.1},{"k":"D","t":164.8,"v":13.3},{"k":"D","t":166.2,"v":13.3},{"k":"D","t":170.6,"v":15.5},{"k":"D","t":172.2,"v":14.7},{"k":"D","t":173.6,"v":15.7},{"k":"D","t":175.3,"v":16.0},{"k":"D","t":176.4,"v":16.2},{"k":"D","t":181.3,"v":16.8},{"k":"D","t":183.0,"v":15.7},{"k":"D","t":184.6,"v":15.2},{"k":"D","t":186.6,"v":15.7},{"k":"D","t":192.1,"v":16.8},{"k":"D","t":193.5,"v":15.5},{"k":"D","t":194.8,"v":16.5},{"k":"D","t":196.5,"v":17.3},{"k":"D","t":202.3,"v":20.4},{"k":"D","t":203.9,"v":20.7},{"k":"D","t":206.1,"v":21.5},{"k":"D","t":207.2,"v":21.0},{"k":"D","t":208.1,"v":20.9},{"k":"D","t":213.6,"v":20.4},{"k":"D","t":215.0,"v":21.5},{"k":"D","t":216.6,"v":20.6},{"k":"D","t":218.8,"v":20.6},{"k":"D","t":223.8,"v":18.3},{"k":"D","t":225.4,"v":17.5},{"k":"D","t":226.3,"v":16.9},{"k":"D","t":228.7,"v":17.8},{"k":"D","t":234.0,"v":18.6},{"k":"D","t":235.9,"v":18.3},{"k":"D","t":238.1,"v":18.6},{"k":"D","t":240.0,"v":18.9},{"k":"D","t":245.0,"v":17.2},{"k":"D","t":247.2,"v":16.3},{"k":"D","t":248.9,"v":16.6},{"k":"D","t":250.0,"v":14.9},{"k":"D","t":250.8,"v":14.8},
{"k":"S","t":0,"v":-0.2},{"k":"S","t":1.1,"v":-1.8},{"k":"S","t":2.5,"v":-1.1},{"k":"S","t":3.3,"v":0.5},{"k":"S","t":5.2,"v":1.5},{"k":"S","t":6.6,"v":0.3},{"k":"S","t":8.0,"v":-0.7},{"k":"S","t":9.4,"v":-1.8},{"k":"S","t":12.1,"v":-1.1},{"k":"S","t":13.2,"v":1.9},{"k":"S","t":14.9,"v":1.0},{"k":"S","t":17.6,"v":6.0},{"k":"S","t":19.0,"v":4.5},{"k":"S","t":20.7,"v":7.4},{"k":"S","t":24.3,"v":2.4},{"k":"S","t":25.9,"v":3.6},{"k":"S","t":28.1,"v":5.0},{"k":"S","t":28.9,"v":8.1},{"k":"S","t":30.3,"v":9.0},{"k":"S","t":31.4,"v":8.5},{"k":"S","t":32.8,"v":9.7},{"k":"S","t":37.8,"v":10.7},{"k":"S","t":40.2,"v":10.9},{"k":"S","t":42.4,"v":8.8},{"k":"S","t":45.7,"v":11.1},{"k":"S","t":46.3,"v":10.7},{"k":"S","t":47.4,"v":8.5},{"k":"S","t":48.5,"v":8.1},{"k":"S","t":49.6,"v":8.5},{"k":"S","t":52.6,"v":7.8},{"k":"S","t":54.0,"v":6.0},{"k":"S","t":55.7,"v":5.0},{"k":"S","t":57.0,"v":4.8},{"k":"S","t":61.2,"v":4.5},{"k":"S","t":62.0,"v":3.8},{"k":"S","t":63.4,"v":5.7},{"k":"S","t":65.6,"v":5.7},{"k":"S","t":68.9,"v":6.9},{"k":"S","t":70.6,"v":7.8},{"k":"S","t":71.7,"v":8.8},{"k":"S","t":73.9,"v":10.0},{"k":"S","t":77.4,"v":8.8},{"k":"S","t":79.4,"v":9.5},{"k":"S","t":81.0,"v":10.2},{"k":"S","t":82.1,"v":11.4},{"k":"S","t":86.0,"v":13.3},{"k":"S","t":87.1,"v":14.7},{"k":"S","t":88.2,"v":14.0},{"k":"S","t":89.6,"v":12.8},{"k":"S","t":94.0,"v":13.3},{"k":"S","t":95.4,"v":14.0},{"k":"S","t":96.7,"v":12.8},{"k":"S","t":98.4,"v":12.1},{"k":"S","t":102.8,"v":9.0},{"k":"S","t":104.4,"v":8.5},{"k":"S","t":105.3,"v":9.7},{"k":"S","t":106.9,"v":11.1},{"k":"S","t":110.8,"v":7.4},{"k":"S","t":112.4,"v":5.7},{"k":"S","t":114.4,"v":6.7},{"k":"S","t":114.6,"v":7.8},{"k":"S","t":118.5,"v":9.7},{"k":"S","t":119.6,"v":8.3},{"k":"S","t":120.7,"v":8.8},{"k":"S","t":122.4,"v":9.3},{"k":"S","t":126.2,"v":12.8},{"k":"S","t":127.9,"v":13.3},{"k":"S","t":129.5,"v":12.3},{"k":"S","t":131.2,"v":12.8},{"k":"S","t":132.6,"v":12.8},{"k":"S","t":138.1,"v":14.2},{"k":"S","t":139.4,"v":13.5},{"k":"S","t":141.7,"v":13.3},{"k":"S","t":143.3,"v":12.6},{"k":"S","t":147.4,"v":14.7},{"k":"S","t":148.5,"v":12.8},{"k":"S","t":149.6,"v":11.4},{"k":"S","t":150.5,"v":13.3},{"k":"S","t":156.8,"v":13.5},{"k":"S","t":157.9,"v":12.6},{"k":"S","t":158.7,"v":14.9},{"k":"S","t":159.8,"v":15.4},{"k":"S","t":161.2,"v":15.2},{"k":"S","t":165.1,"v":15.4},{"k":"S","t":167.6,"v":15.7},{"k":"S","t":168.7,"v":14.7},{"k":"S","t":169.5,"v":17.0},{"k":"S","t":175.5,"v":18.3},{"k":"S","t":176.7,"v":19.6},{"k":"S","t":178.3,"v":21.5},{"k":"S","t":179.7,"v":21.0},{"k":"S","t":185.5,"v":18.9},{"k":"S","t":186.6,"v":20.2},{"k":"S","t":187.7,"v":21.2},{"k":"S","t":189.1,"v":22.3},{"k":"S","t":195.7,"v":21.2},{"k":"S","t":197.3,"v":23.6},{"k":"S","t":199.0,"v":23.8},{"k":"S","t":200.6,"v":24.1},{"k":"S","t":206.1,"v":25.4},{"k":"S","t":207.2,"v":25.8},{"k":"S","t":208.4,"v":25.6},{"k":"S","t":209.4,"v":26.1},{"k":"S","t":211.1,"v":25.8},{"k":"S","t":215.2,"v":23.5},{"k":"S","t":217.4,"v":23.2},{"k":"S","t":219.6,"v":23.8},{"k":"S","t":220.5,"v":22.4},{"k":"S","t":225.2,"v":21.2},{"k":"S","t":226.5,"v":21.8},{"k":"S","t":227.6,"v":21.2},{"k":"S","t":229.3,"v":21.5},{"k":"S","t":234.5,"v":23.8},{"k":"S","t":236.2,"v":22.7},{"k":"S","t":237.8,"v":23.0},{"k":"S","t":239.5,"v":23.2},{"k":"S","t":244.4,"v":21.5},{"k":"S","t":245.6,"v":20.1},{"k":"S","t":246.4,"v":18.9},{"k":"S","t":248.6,"v":18.9}
]},
"layer":[
{"data":{"values":[{"t":21},{"t":42},{"t":63},{"t":84},{"t":105},{"t":126},{"t":147},{"t":168},{"t":189},{"t":210},{"t":231},{"t":252}]},
 "mark":{"type":"rule","color":"#a6a6a6","strokeWidth":1.3},
 "encoding":{"x":{"field":"t","type":"quantitative"},"y":{"datum":0,"type":"quantitative"},"y2":{"datum":-1.2}}},
{"data":{"values":[{}]},
 "mark":{"type":"rule","color":"#a6a6a6","strokeWidth":1.3},
 "encoding":{"y":{"datum":0,"type":"quantitative"}}},
{"transform":[{"lookup":"k","from":{"data":{"values":[
  {"k":"L","name":"Lumber, Millwork, Plywood and Structural Wood"},
  {"k":"R","name":"Refrigeration and Heating Equipment"},
  {"k":"G","name":"Roofing, Siding and Isulation"},
  {"k":"W","name":"Windows and Doors"},
  {"k":"B","name":"Building Products - Other"}]},"key":"k","fields":["name"]}},
  {"filter":{"field":"k","oneOf":["L","R","G","W","B"]}}],
 "mark":{"type":"line","strokeCap":"round","strokeJoin":"round"},
 "encoding":{
  "x":{"field":"t","type":"quantitative","scale":{"domain":[0,252],"nice":false,"zero":false},
   "axis":{"title":null,"values":[0,21,42,63,84,105,126,147,168,189,210,231,252],
    "labelExpr":"['Sep-22','Oct-22','Nov-22','Dec-22','Jan-23','Feb-23','Mar-23','Apr-23','May-23','Jun-23','Jul-23','Aug-23','Sep-23'][round(datum.value/21)]",
    "grid":false,"ticks":false,"domain":false,"labelFont":"Liberation Serif","labelFontSize":30,"labelColor":"#000","labelPadding":24,"labelFlush":false,"labelOverlap":false}},
  "y":{"field":"v","type":"quantitative","scale":{"domain":[-10,110],"nice":false,"zero":false},
   "axis":{"title":null,"values":[-10,10,30,50,70,90,110],"labelExpr":"datum.value + '%'",
    "grid":true,"gridColor":"#a6a6a6","gridWidth":1.3,"domain":true,"domainColor":"#a6a6a6","domainWidth":1.5,
    "ticks":true,"tickSize":10,"tickColor":"#a6a6a6","tickWidth":1.3,
    "labelFont":"Liberation Serif","labelFontSize":30,"labelColor":"#000","labelPadding":18,"labelFlush":false,"labelOverlap":false}},
  "color":{"field":"name","type":"nominal",
   "scale":{"domain":["Lumber, Millwork, Plywood and Structural Wood","Refrigeration and Heating Equipment","Roofing, Siding and Isulation","Windows and Doors","Building Products - Other","Dow Jones Industrial Average","S&P 500"],
    "range":["#3c61ad","#d5732d","#9d9d9d","#e2a800","#4f8bc6","#ff0000","#000000"]},
   "legend":{"orient":"none","legendX":-27.5,"legendY":996.5,"columns":2,"direction":"horizontal","title":null,"symbolType":"M-7,0H7","symbolSize":100,
    "labelFont":"Liberation Serif","labelFontSize":31,"labelColor":"#000","labelLimit":900,"rowPadding":14.5,"columnPadding":150,"labelOffset":26.5,"padding":0,"symbolOffset":0,
    "encoding":{"symbols":{
      "strokeCap":{"value":"round"},
      "strokeJoin":{"value":"round"},
      "size":{"value":100},
      "strokeDash":{"value":{"expr":"(datum.value == 'S&P 500' || datum.value == 'Dow Jones Industrial Average') ? [38, 300] : [1, 0]"}}}}}},
  "strokeWidth":{"field":"name","type":"nominal",
   "scale":{"type":"ordinal","domain":["Lumber, Millwork, Plywood and Structural Wood","Refrigeration and Heating Equipment","Roofing, Siding and Isulation","Windows and Doors","Building Products - Other","Dow Jones Industrial Average","S&P 500"],
    "range":[3.3,3.3,3.3,3.3,3.3,11.5,11.5]}}
 }},
{"transform":[{"lookup":"k","from":{"data":{"values":[
  {"k":"D","name":"Dow Jones Industrial Average"},
  {"k":"S","name":"S&P 500"}]},"key":"k","fields":["name"]}},
  {"filter":{"field":"k","oneOf":["D","S"]}}],
 "mark":{"type":"line","strokeDash":[26,34],"strokeCap":"round","strokeJoin":"round"},
 "encoding":{
  "x":{"field":"t","type":"quantitative","scale":{"domain":[0,252],"nice":false,"zero":false},
   "axis":{"title":null,"values":[0,21,42,63,84,105,126,147,168,189,210,231,252],
    "labelExpr":"['Sep-22','Oct-22','Nov-22','Dec-22','Jan-23','Feb-23','Mar-23','Apr-23','May-23','Jun-23','Jul-23','Aug-23','Sep-23'][round(datum.value/21)]",
    "grid":false,"ticks":false,"domain":false,"labelFont":"Liberation Serif","labelFontSize":30,"labelColor":"#000","labelPadding":24,"labelFlush":false,"labelOverlap":false}},
  "y":{"field":"v","type":"quantitative","scale":{"domain":[-10,110],"nice":false,"zero":false},
   "axis":{"title":null,"values":[-10,10,30,50,70,90,110],"labelExpr":"datum.value + '%'",
    "grid":true,"gridColor":"#a6a6a6","gridWidth":1.3,"domain":true,"domainColor":"#a6a6a6","domainWidth":1.5,
    "ticks":true,"tickSize":10,"tickColor":"#a6a6a6","tickWidth":1.3,
    "labelFont":"Liberation Serif","labelFontSize":30,"labelColor":"#000","labelPadding":18,"labelFlush":false,"labelOverlap":false}},
  "color":{"field":"name","type":"nominal",
   "scale":{"domain":["Lumber, Millwork, Plywood and Structural Wood","Refrigeration and Heating Equipment","Roofing, Siding and Isulation","Windows and Doors","Building Products - Other","Dow Jones Industrial Average","S&P 500"],
    "range":["#3c61ad","#d5732d","#9d9d9d","#e2a800","#4f8bc6","#ff0000","#000000"]},
   "legend":{"orient":"none","legendX":-27.5,"legendY":996.5,"columns":2,"direction":"horizontal","title":null,"symbolType":"M-7,0H7","symbolSize":100,
    "labelFont":"Liberation Serif","labelFontSize":31,"labelColor":"#000","labelLimit":900,"rowPadding":14.5,"columnPadding":150,"labelOffset":26.5,"padding":0,"symbolOffset":0,
    "encoding":{"symbols":{
      "strokeCap":{"value":"round"},
      "strokeJoin":{"value":"round"},
      "size":{"value":100},
      "strokeDash":{"value":{"expr":"(datum.value == 'S&P 500' || datum.value == 'Dow Jones Industrial Average') ? [38, 300] : [1, 0]"}}}}}},
  "strokeWidth":{"field":"name","type":"nominal",
   "scale":{"type":"ordinal","domain":["Lumber, Millwork, Plywood and Structural Wood","Refrigeration and Heating Equipment","Roofing, Siding and Isulation","Windows and Doors","Building Products - Other","Dow Jones Industrial Average","S&P 500"],
    "range":[3.3,3.3,3.3,3.3,3.3,11.5,11.5]}}
 }}
]
}
